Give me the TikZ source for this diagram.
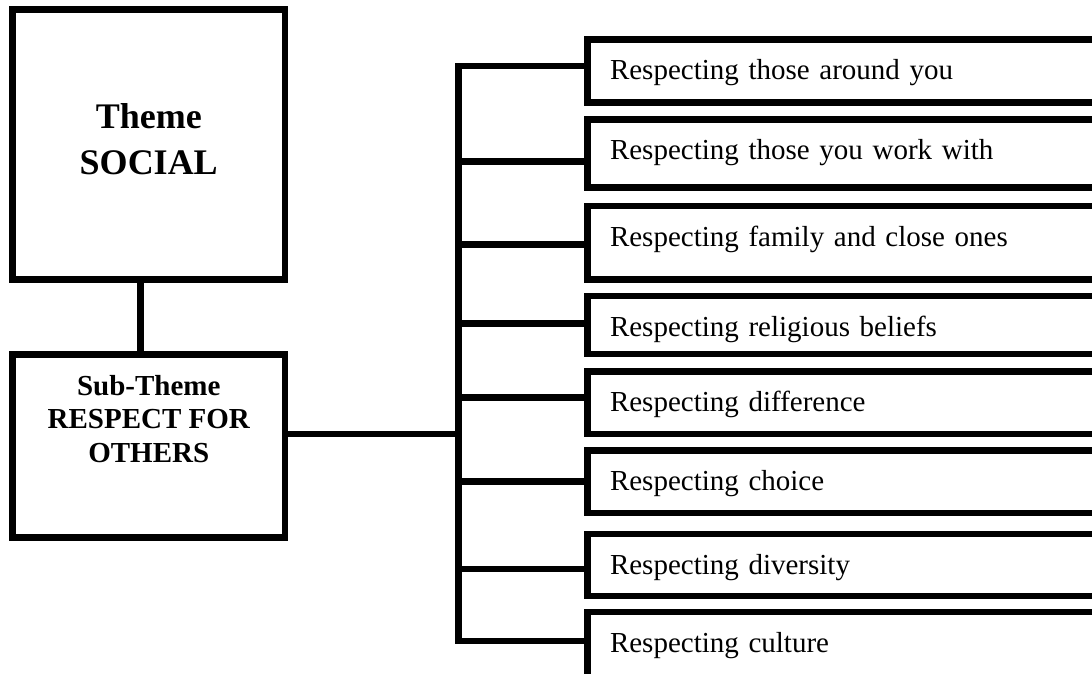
\documentclass[tikz,border=0pt]{standalone}
\usepackage{fontspec}
\setmainfont{Liberation Serif}
\begin{document}
\begin{tikzpicture}[x=1pt,y=-1pt,
  frame/.style={draw=black, line width=6.7pt, outer sep=0pt, inner sep=0pt, fill=white},
  item/.style={frame, anchor=north west, inner xsep=22.5pt, inner ysep=0pt,
    text width=475pt, align=left, text height=40pt,
    font=\fontsize{29}{34}\selectfont},
  link/.style={draw=black, line width=6.7pt, line join=miter}
]
\useasboundingbox (0,0) rectangle (1092,673);
\clip (0,0) rectangle (1092,673);

% left column: theme and sub-theme
\node[frame, anchor=north west, minimum width=272.5pt, minimum height=270pt] (theme) at (12.5,9.5) {};
\node[frame, anchor=north west, minimum width=272.5pt, minimum height=183pt] (sub) at (12.5,354.5) {};
\node[font=\bfseries\fontsize{36}{46}\selectfont, align=center, anchor=north, inner sep=0pt] (themetxt) at (148.75,103.7) {Theme\\SOCIAL};
\node[font=\bfseries\fontsize{29}{33.6}\selectfont, align=center, anchor=north, inner sep=0pt] (subtxt) at (148.75,375) {Sub-Theme\\RESPECT FOR\\OTHERS};

% right column: the eight items
\node[item, text depth=23.4pt] (b1) at (587.5,39.3) {Respecting those around you};
\node[item, text depth=28pt]   (b2) at (587.5,119.3) {Respecting those you work with};
\node[item, text depth=33.7pt] (b3) at (587.5,206) {Respecting family and close ones};
\node[item, text depth=18pt]   (b4) at (587.5,296) {Respecting religious beliefs};
\node[item, text depth=22.7pt] (b5) at (587.5,371.3) {Respecting difference};
\node[item, text depth=22.3pt] (b6) at (587.5,450.7) {Respecting choice};
\node[item, text depth=22pt]   (b7) at (587.5,534) {Respecting diversity};
\node[item, text depth=26pt]   (b8) at (587.5,612) {Respecting culture};

% junction points on the vertical bus
\coordinate (j1) at (458.3,66);
\coordinate (j2) at (458.3,161.3);
\coordinate (j3) at (458.3,244.3);
\coordinate (j4) at (458.3,323.7);
\coordinate (j5) at (458.3,397.7);
\coordinate (j6) at (458.3,481.7);
\coordinate (j7) at (458.3,569);
\coordinate (j8) at (458.3,641);
\coordinate (hub) at (458.3,434);
\coordinate (stem) at (140.5,0);

% connectors
\draw[link] (theme.south -| stem) -- (sub.north -| stem);
\draw[link] (hub -| sub.east) -- (hub);
\draw[link] (j1 -| b1.west) -- (j1) -- (j8) -- (j8 -| b8.west);
\foreach \k in {2,...,7} {
  \draw[link] (j\k) -- (j\k -| b\k.west);
}
\end{tikzpicture}
\end{document}
